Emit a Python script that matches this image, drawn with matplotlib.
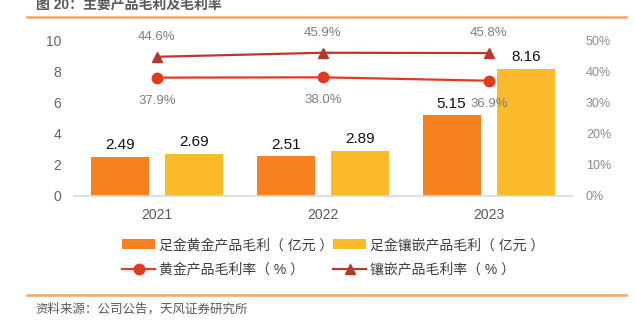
import numpy as np
import matplotlib
matplotlib.use("Agg")
import matplotlib.pyplot as plt
from matplotlib.lines import Line2D

plt.rcParams['font.family'] = ['Liberation Sans', 'Noto Sans CJK SC', 'DejaVu Sans']

# 数据
years = ['2021', '2022', '2023']
gold_profit = [2.49, 2.51, 5.15]        # 足金黄金产品毛利（亿元）
inlay_profit = [2.69, 2.89, 8.16]       # 足金镶嵌产品毛利（亿元）
gold_margin = [37.9, 38.0, 36.9]        # 黄金产品毛利率（%）
inlay_margin = [44.6, 45.9, 45.8]       # 镶嵌产品毛利率（%）

c_gold = '#F5821F'
c_inlay = '#FBBA2C'
c_gold_line = '#E03B1E'
c_inlay_line = '#B8382A'

fig = plt.figure(figsize=(6.35, 3.24), dpi=100)
ax = fig.add_axes([74 / 635, 1 - 195.5 / 324, 498 / 635, 155.5 / 324])
ax2 = ax.twinx()

x = np.arange(len(years))
w = 0.35
b1 = ax.bar(x - 0.225, gold_profit, w, color=c_gold, label='足金黄金产品毛利（ 亿元 ）', zorder=2)
b2 = ax.bar(x + 0.225, inlay_profit, w, color=c_inlay, label='足金镶嵌产品毛利（ 亿元 ）', zorder=2)
for bars, vals in ((b1, gold_profit), (b2, inlay_profit)):
    for r, v in zip(bars, vals):
        ax.annotate(f'{v:.2f}', (r.get_x() + r.get_width() / 2, v), xytext=(0, 3.5),
                    textcoords='offset points', ha='center', va='bottom',
                    fontsize=11, color='#111111')

l1, = ax2.plot(x, gold_margin, color=c_gold_line, lw=1.6, marker='o', ms=7.5,
               label='黄金产品毛利率（ % ）', zorder=3)
l2, = ax2.plot(x, inlay_margin, color=c_inlay_line, lw=1.6, marker='^', ms=7,
               label='镶嵌产品毛利率（ % ）', zorder=3)
for xi, v in zip(x, gold_margin):
    ax2.annotate(f'{v:.1f}%', (xi, v), xytext=(0, -16.5), textcoords='offset points',
                 ha='center', va='center', fontsize=9.5, color='#7F7F7F')
for xi, v in zip(x, inlay_margin):
    ax2.annotate(f'{v:.1f}%', (xi, v), xytext=(0, 14.5), textcoords='offset points',
                 ha='center', va='center', fontsize=9.5, color='#7F7F7F')

ax.set_xlim(-0.5, 2.5)
ax.set_ylim(0, 10)
ax.set_yticks(range(0, 11, 2))
ax2.set_ylim(0, 50)
ax2.set_yticks(range(0, 51, 10))
ax2.set_yticklabels([f'{v}%' for v in range(0, 51, 10)])
ax.set_xticks(x)
ax.set_xticklabels(years)

for a in (ax, ax2):
    for s in a.spines.values():
        s.set_visible(False)
ax.spines['bottom'].set_visible(True)
ax.spines['bottom'].set_color('#D9D9D9')
ax.spines['bottom'].set_linewidth(1.2)
ax.tick_params(axis='y', length=0, pad=9, labelsize=10, labelcolor='#666666')
ax.tick_params(axis='x', length=0, pad=9, labelsize=10, labelcolor='#595959')
ax2.tick_params(axis='y', length=0, pad=10, labelsize=9, labelcolor='#8C8C8C')

# 图例按行排列：柱在第一行，折线在第二行
fig.legend(handles=[b1, l1, b2, l2], ncol=2, loc='upper left',
           bbox_to_anchor=(115 / 635, 1 - 231 / 324), frameon=False,
           fontsize=10, handlelength=2.4, handletextpad=0.25,
           columnspacing=0.0, labelspacing=0.75, borderpad=0, labelcolor='#404040')

# 标题与来源
fig.text(36 / 635, 1 - 12 / 324, '图 20：主要产品毛利及毛利率', fontsize=10,
         fontweight='bold', color='#595959', va='bottom', ha='left')
fig.add_artist(Line2D([27 / 635, 626 / 635], [1 - 17 / 324] * 2, color='#F4A460', lw=1.8))
fig.add_artist(Line2D([27 / 635, 626 / 635], [1 - 295 / 324] * 2, color='#F4A460', lw=1.8))
fig.text(35 / 635, 1 - 309 / 324, '资料来源：公司公告，天风证券研究所', fontsize=9,
         color='#595959', va='center', ha='left')

fig.savefig('out.png', dpi=100)
